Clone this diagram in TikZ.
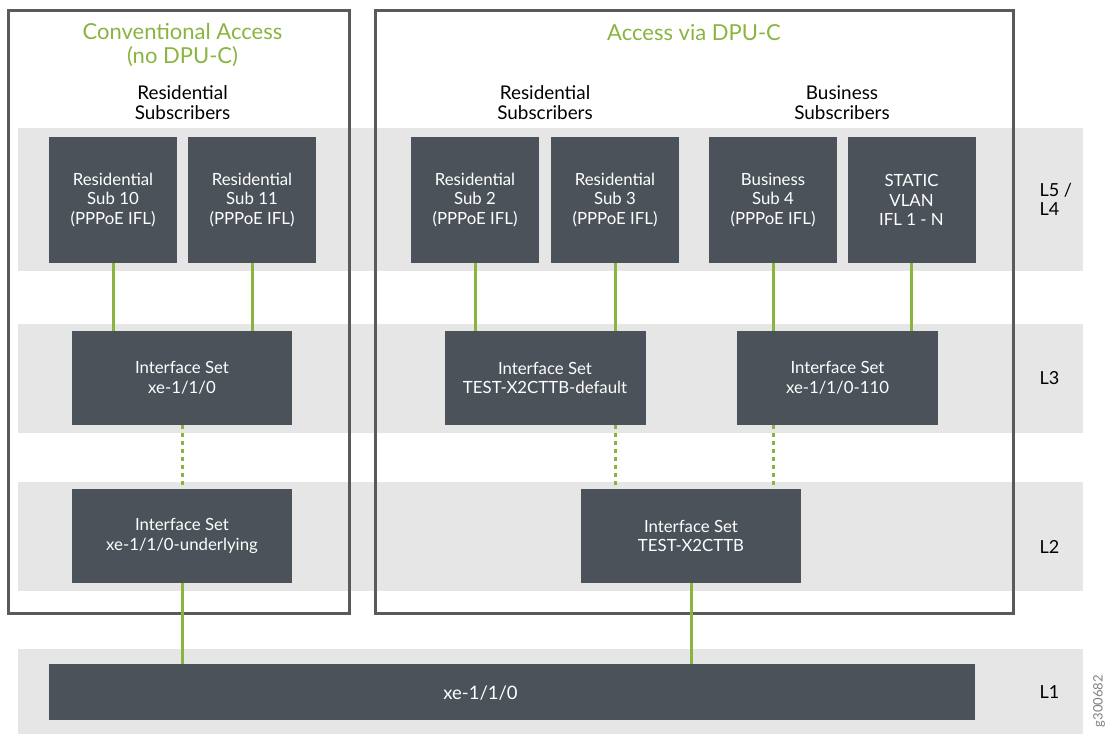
\documentclass[tikz,border=0pt]{standalone}
\usepackage{fontspec}
\setmainfont{Lato}
\usetikzlibrary{calc}
\definecolor{boxfill}{HTML}{4B525A}
\definecolor{bandgray}{HTML}{E6E6E6}
\definecolor{framegray}{HTML}{5A5A5A}
\definecolor{jgreen}{HTML}{8AB440}
\begin{document}
\begin{tikzpicture}[x=1pt,y=-1pt,
  box/.style={fill=boxfill, text=white, align=center, inner sep=0pt,
    font=\fontsize{16.8}{19.5}\selectfont},
  bandrect/.style={fill=bandgray},
  frame/.style={draw=framegray, line width=3pt},
  link/.style={draw=jgreen, line width=3pt},
  dlink/.style={link, dash pattern=on 4pt off 4pt},
  head/.style={align=center, font=\fontsize{18.9}{20}\selectfont},
  grouptitle/.style={align=center, text=jgreen, font=\fontsize{22}{24}\selectfont},
  layer/.style={align=left, anchor=west, font=\fontsize{18}{19}\selectfont}]
\useasboundingbox (0,0) rectangle (1107,734);

% layer bands
\fill[bandrect] (18,128) rectangle (1083,271);
\fill[bandrect] (18,324) rectangle (1083,433);
\fill[bandrect] (18,482) rectangle (1083,591);
\fill[bandrect] (18,649) rectangle (1083,734);

% group frames
\draw[frame] (8,10) rectangle (349,613);
\draw[frame] (375,10) rectangle (1013,613);

% titles and headings
\node[grouptitle] (t1) at (182.5,45) {Conventional Access\\(no DPU-C)};
\node[grouptitle] (t2) at (694,33) {Access via DPU-C};
\node[head] (h1) at (182.5,103) {Residential\\Subscribers};
\node[head] (h2) at (545,103) {Residential\\Subscribers};
\node[head] (h3) at (842,103) {Business\\Subscribers};

% L5/L4 subscriber boxes
\node[box, minimum width=128pt, minimum height=126pt] (s10) at (113,200) {Residential\\Sub 10\\(PPPoE IFL)};
\node[box, minimum width=128pt, minimum height=126pt] (s11) at (252,200) {Residential\\Sub 11\\(PPPoE IFL)};
\node[box, minimum width=128pt, minimum height=126pt] (s2) at (475,200) {Residential\\Sub 2\\(PPPoE IFL)};
\node[box, minimum width=128pt, minimum height=126pt] (s3) at (615,200) {Residential\\Sub 3\\(PPPoE IFL)};
\node[box, minimum width=128pt, minimum height=126pt] (s4) at (773,200) {Business\\Sub 4\\(PPPoE IFL)};
\node[box, minimum width=128pt, minimum height=126pt] (st) at (911.5,200) {STATIC\\VLAN\\IFL 1 - N};

% L3 interface sets
\node[box, minimum width=220pt, minimum height=94pt] (is1) at (182,378) {Interface Set\\xe-1/1/0};
\node[box, minimum width=201pt, minimum height=94pt] (is2) at (545,378) {Interface Set\\TEST-X2CTTB-default};
\node[box, minimum width=201pt, minimum height=94pt] (is3) at (837.5,378) {Interface Set\\xe-1/1/0-110};

% L2 interface sets
\node[box, minimum width=220pt, minimum height=94pt] (ul) at (182,536) {Interface Set\\xe-1/1/0-underlying};
\node[box, minimum width=220pt, minimum height=94pt] (tb) at (691,536) {Interface Set\\TEST-X2CTTB};

% L1 physical port (its name sits left of the bar's centre)
\node[box, minimum width=926pt, minimum height=56pt] (phy) at (512,692) {};
\node[text=white, inner sep=0pt, font=\fontsize{18.5}{20}\selectfont] (phytext) at (480.5,693) {xe-1/1/0};

% layer labels
\node[layer] (l5) at (1036,199) {L5 /\\L4};
\node[layer] (l3) at (1036,378) {L3};
\node[layer] (l2) at (1036,547) {L2};
\node[layer] (l1) at (1036,692) {L1};
\node[rotate=90, text=gray, inner sep=0pt, font=\fontsize{13}{14}\selectfont] (fig) at (1099,701) {g300682};

% connectors
\draw[link] (s10.south) -- (s10.south |- is1.north);
\draw[link] (s11.south) -- (s11.south |- is1.north);
\draw[link] (s2.south) -- (s2.south |- is2.north);
\draw[link] (s3.south) -- (s3.south |- is2.north);
\draw[link] (s4.south) -- (s4.south |- is3.north);
\draw[link] (st.south) -- (st.south |- is3.north);
\draw[dlink] (is1.south) -- (ul.north);
\draw[dlink] (s3.south |- is2.south) -- (s3.south |- tb.north);
\draw[dlink] (s4.south |- is3.south) -- (s4.south |- tb.north);
\draw[link] (ul.south) -- (ul.south |- phy.north);
\draw[link] (tb.south) -- (tb.south |- phy.north);
\end{tikzpicture}
\end{document}
